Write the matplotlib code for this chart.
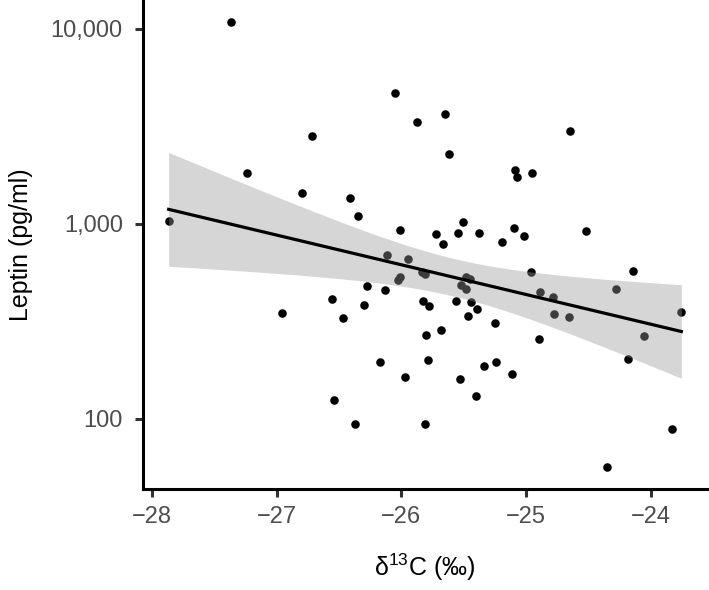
import numpy as np
import matplotlib
matplotlib.use('Agg')
import matplotlib.pyplot as plt

plt.rcParams['font.family'] = ['Liberation Sans', 'DejaVu Sans']
plt.rcParams['mathtext.fontset'] = 'custom'
plt.rcParams['mathtext.rm'] = 'Liberation Sans'
plt.rcParams['mathtext.default'] = 'regular'

# d13C values (per mil)
d13c = [-27.865, -27.365, -27.237, -26.959, -26.796, -26.715, -26.555, -26.536,
        -26.470, -26.408, -26.374, -26.350, -26.296, -26.275, -26.170, -26.133,
        -26.117, -26.055, -26.026, -26.007, -26.007, -25.970, -25.943, -25.873,
        -25.833, -25.828, -25.809, -25.807, -25.801, -25.785, -25.780, -25.721,
        -25.684, -25.670, -25.652, -25.617, -25.566, -25.548, -25.532, -25.520,
        -25.508, -25.486, -25.486, -25.467, -25.446, -25.440, -25.400, -25.395,
        -25.379, -25.339, -25.253, -25.240, -25.192, -25.112, -25.096, -25.088,
        -25.072, -25.021, -24.962, -24.951, -24.901, -24.887, -24.783, -24.780,
        -24.654, -24.649, -24.521, -24.353, -24.281, -24.184, -24.147, -24.056,
        -23.832, -23.756]

# leptin (pg/ml)
leptin = [1033, 10770, 1820, 348, 1428, 2795, 410, 125,
          328, 1353, 94, 1096, 383, 481, 196, 457,
          692, 4667, 514, 532, 926, 164, 657, 3326,
          564, 403, 94, 550, 269, 200, 377, 880,
          284, 787, 3627, 2265, 403, 899, 159, 485,
          1014, 531, 459, 334, 520, 395, 130, 365,
          893, 185, 308, 194, 805, 169, 944, 1884,
          1741, 863, 567, 1818, 256, 448, 421, 343,
          331, 2990, 918, 56.6, 462, 202, 574, 266,
          88, 353]

x_ticks = [-28, -27, -26, -25, -24]
y_ticks = [100, 1000, 10000]
y_ticklabels = ['100', '1,000', '10,000']

x = np.array(d13c)
ly = np.log10(np.array(leptin))

# linear fit on log scale with 95% CI
n = len(x)
b, a = np.polyfit(x, ly, 1)
resid = ly - (a + b * x)
s = np.sqrt(np.sum(resid ** 2) / (n - 2))
xs = np.linspace(x.min(), x.max(), 100)
fit = a + b * xs
se = s * np.sqrt(1 / n + (xs - x.mean()) ** 2 / np.sum((x - x.mean()) ** 2))
t = 1.9935
lo = fit - t * se
hi = fit + t * se

fig = plt.figure(figsize=(7.09, 5.9), dpi=100)
ax = fig.add_axes([0.2017, 0.1712, 0.7955, 0.8288])

ax.scatter(x, leptin, s=38, color='black', linewidths=0, zorder=2)
ax.fill_between(xs, 10 ** lo, 10 ** hi, color='#999999', alpha=0.4, linewidth=0, zorder=3)
ax.plot(xs, 10 ** fit, color='black', lw=2.3, zorder=4)

ax.set_yscale('log')
xr = x.max() - x.min()
ax.set_xlim(x.min() - 0.05 * xr, x.max() + 0.05 * xr)
lr = ly.max() - ly.min()
ax.set_ylim(10 ** (ly.min() - 0.05 * lr), 10 ** (ly.max() + 0.05 * lr))

ax.set_xticks(x_ticks)
ax.set_xticklabels(['\u2212' + str(abs(v)) for v in x_ticks])
ax.set_yticks(y_ticks)
ax.set_yticklabels(y_ticklabels)
ax.yaxis.set_minor_locator(matplotlib.ticker.NullLocator())

for side in ['top', 'right']:
    ax.spines[side].set_visible(False)
for side in ['left', 'bottom']:
    ax.spines[side].set_linewidth(2.2)
    ax.spines[side].set_color('black')

ax.tick_params(axis='both', length=5.5, width=2.2, color='#333333',
               labelcolor='#4D4D4D', labelsize=17)
ax.tick_params(axis='y', pad=9)
ax.tick_params(axis='x', pad=7)

ax.set_xlabel('\u03b4$^{13}$C (\u2030)', fontsize=18, color='black', labelpad=17)
ax.set_ylabel('Leptin (pg/ml)', fontsize=18, color='black', labelpad=13)

fig.savefig('out.png', dpi=100)
